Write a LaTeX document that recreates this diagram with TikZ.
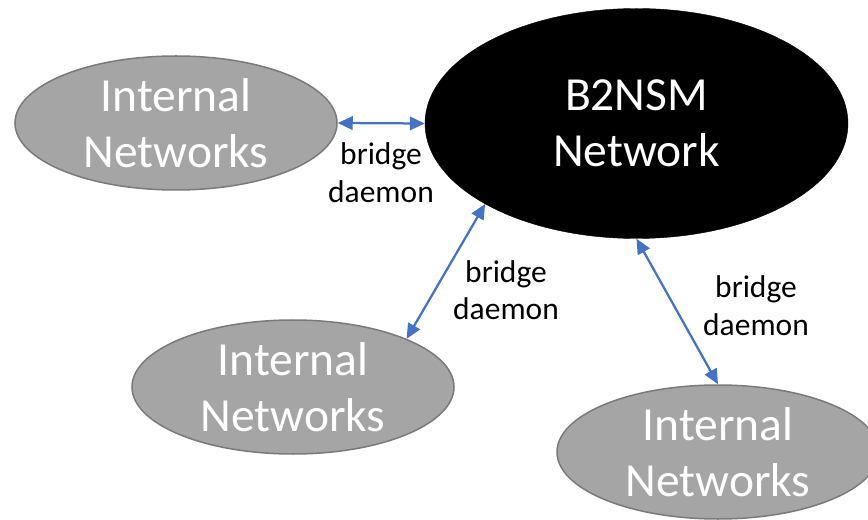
\documentclass[tikz,border=0pt]{standalone}
\usepackage{fontspec}
\setmainfont{Carlito}
\usetikzlibrary{shapes.geometric,arrows.meta}
\definecolor{netgray}{HTML}{A5A5A5}
\definecolor{netedge}{HTML}{7A7A7A}
\definecolor{linkblue}{HTML}{4472C4}
\tikzset{
  inet/.style={ellipse, fill=netgray, draw=netedge, line width=1.5bp, inner sep=0pt,
    minimum width=322bp, minimum height=134bp},
  core/.style={ellipse, fill=black, draw=black, inner sep=0pt,
    minimum width=423bp, minimum height=230bp},
  bigtext/.style={text=white, align=center, inner sep=0pt,
    font=\fontsize{47.5bp}{56bp}\selectfont},
  lbl/.style={text=black, align=center, inner sep=0pt,
    font=\fontsize{31.5bp}{37.5bp}\selectfont},
  link/.style={draw=linkblue, line width=2.25bp,
    {Triangle[length=15bp,width=13.5bp]}-{Triangle[length=15bp,width=13.5bp]}}
}
\begin{document}
\begin{tikzpicture}[x=1bp,y=-1bp]
\useasboundingbox (0,0) rectangle (868,520);
\node[inet] (E1) at (176,123) {};
\node[inet] (E2) at (293,387) {};
\node[inet] (E3) at (718,452) {};
\node[core] (B) at (636.5,123.5) {};
\node[bigtext] (T1) at (E1) {Internal\\Networks};
\node[bigtext] (T2) at (E2) {Internal\\Networks};
\node[bigtext] (T3) at (E3) {Internal\\Networks};
\node[bigtext] (TB) at (B) {B2NSM\\Network};
\draw[link] (E1.east) -- (B.west);
\draw[link] (E2.23.7) -- (B.208.6);
\draw[link] (B.south) -- (E3.north);
\node[lbl] (L1) at (381,172.5) {bridge\\daemon};
\node[lbl] (L2) at (506,290) {bridge\\daemon};
\node[lbl] (L3) at (756,305.5) {bridge\\daemon};
\end{tikzpicture}
\end{document}
